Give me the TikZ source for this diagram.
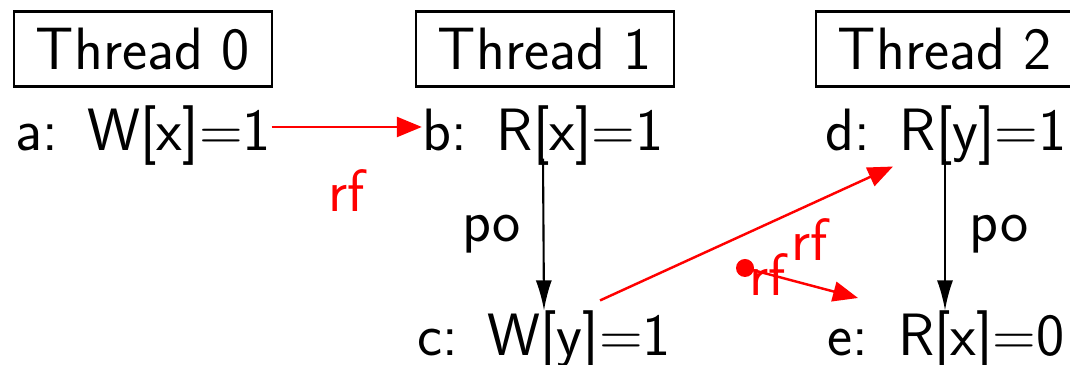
\documentclass[tikz,border=0pt]{standalone}
\usepackage{xcolor}
\usepackage{tikz}
\usetikzlibrary{arrows.meta, positioning, calc}
\tikzset{
  tbox/.style ={rectangle, draw=black, line width=0.6pt, minimum width=2.57cm, minimum height=0.75cm,
                inner sep=0pt, font=\sffamily\fontsize{17}{20}\selectfont},
  evt/.style  ={inner sep=0pt, font=\sffamily\fontsize{17}{20}\selectfont},
  poarr/.style={-{Latex[length=3mm, width=1.6mm]}, line width=0.6pt, color=black},
  rfarr/.style={-{Triangle[length=2.5mm, width=2mm]}, line width=0.7pt, color=red},
  polbl/.style={font=\sffamily\fontsize{17}{20}\selectfont, text=black},
  rflbl/.style={font=\sffamily\fontsize{17}{20}\selectfont, text=red},
}
\begin{document}
\begin{tikzpicture}[x=0.01cm, y=-0.01cm]
  \useasboundingbox (0,0) rectangle (1070,365);
  % thread headers
  \foreach \i/\xx in {0/143,1/545,2/945} \node[tbox] (t\i) at (\xx,49) {Thread \i};
  % events
  \node[evt] (a) at (143,136) {a:\enspace W[x]=1};
  \node[evt] (b) at (543,136) {b:\enspace R[x]=1};
  \node[evt] (d) at (946,136) {d:\enspace R[y]=1};
  \node[evt] (c) at (544,341) {c:\enspace W[y]=1};
  \node[evt] (e) at (946,341) {e:\enspace R[x]=0};
  % relations
  \draw[rfarr] ([yshift=0.09cm]a.east) -- ([yshift=0.09cm]b.west) node[rflbl, midway, below=0.3cm] {rf};
  \draw[poarr] ([yshift=0.08cm]b.south) -- (c.north) node[polbl, midway, left=0.1cm] {po};
  \draw[poarr] ([xshift=-0.01cm, yshift=0.08cm]d.south) -- ([xshift=-0.01cm]e.north) node[polbl, midway, right=0.12cm] {po};
  \draw[rfarr] ([xshift=0.56cm, yshift=0.1cm]c.north) -- ([xshift=-0.53cm]d.south)
    node[rflbl, pos=0.6, anchor=north west, inner sep=0pt, xshift=0.14cm, yshift=0.03cm] {rf};
  \coordinate (x0) at (745,268);
  \coordinate (x1) at (858,298);
  \fill[red] (x0) circle (0.09cm);
  \draw[rfarr] (x0) -- (x1) node[rflbl, pos=0.2, below=-0.22cm, inner sep=0pt] {rf};
\end{tikzpicture}
\end{document}
